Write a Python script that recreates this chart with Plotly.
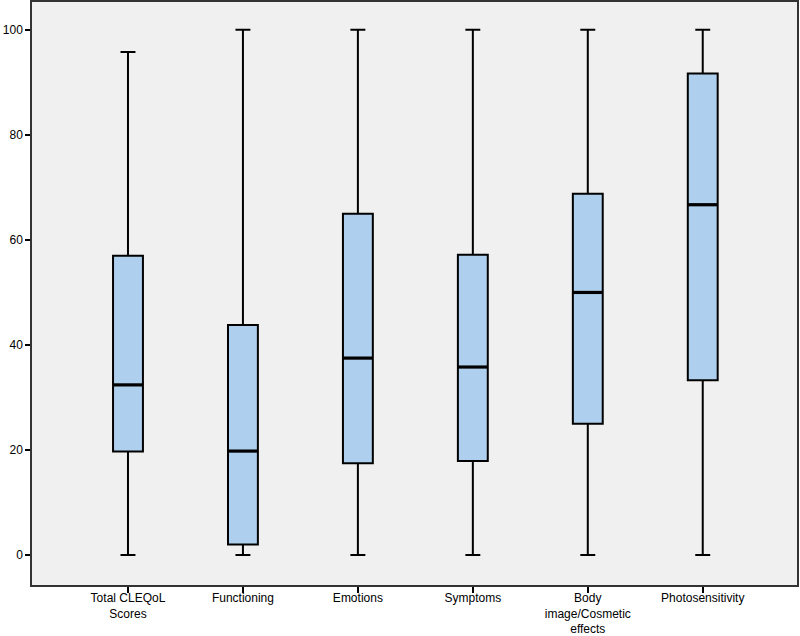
import plotly.graph_objects as go

categories = ["Total CLEQoL<br>Scores", "Functioning", "Emotions", "Symptoms",
              "Body<br>image/Cosmetic<br>effects", "Photosensitivity"]
lower = [0, 0, 0, 0, 0, 0]
q1 = [19.7, 2.0, 17.5, 17.9, 25.0, 33.3]
median = [32.4, 19.8, 37.5, 35.8, 50.0, 66.7]
q3 = [57.0, 43.8, 65.0, 57.2, 68.8, 91.7]
upper = [95.8, 100, 100, 100, 100, 100]
ytick_vals = [0, 20, 40, 60, 80, 100]

xpos = list(range(len(categories)))

fig = go.Figure()
fig.add_trace(go.Box(
    x=xpos, q1=q1, median=median, q3=q3, lowerfence=lower, upperfence=upper,
    width=0.26, whiskerwidth=0.5,
    fillcolor="#aed0ee", line=dict(color="black", width=2),
    boxpoints=False, showlegend=False, hoverinfo="skip",
))
# thicker median line, like SPSS
for i, m in zip(xpos, median):
    fig.add_trace(go.Scatter(x=[i - 0.13, i + 0.13], y=[m, m], mode="lines",
                             line=dict(color="black", width=3.2),
                             showlegend=False, hoverinfo="skip"))

fig.update_layout(
    width=800, height=636,
    margin=dict(l=32, r=3, t=2, b=51),
    paper_bgcolor="white", plot_bgcolor="#f0f0f0",
    font=dict(family="Liberation Sans, Arial", size=12, color="black"),
)
fig.update_xaxes(
    range=[-0.835, 5.82], tickvals=xpos, ticktext=categories,
    ticks="outside", ticklen=6, tickwidth=1.5, tickcolor="black",
    showline=True, linecolor="#333", linewidth=1.5, mirror=True,
    showgrid=False, zeroline=False, tickfont=dict(size=12),
    automargin=False, ticklabelstandoff=-5,
)
fig.update_yaxes(
    range=[-5.7, 105.3], tickvals=ytick_vals,
    ticks="outside", ticklen=5, tickwidth=1.5, tickcolor="black",
    showline=True, linecolor="#333", linewidth=1.5, mirror=True,
    showgrid=False, zeroline=False, tickfont=dict(size=12),
    automargin=False,
)
fig.write_html("out.html", config={"displayModeBar": False},
               post_script="document.body.style.margin='0px';document.body.style.overflow='hidden';")
